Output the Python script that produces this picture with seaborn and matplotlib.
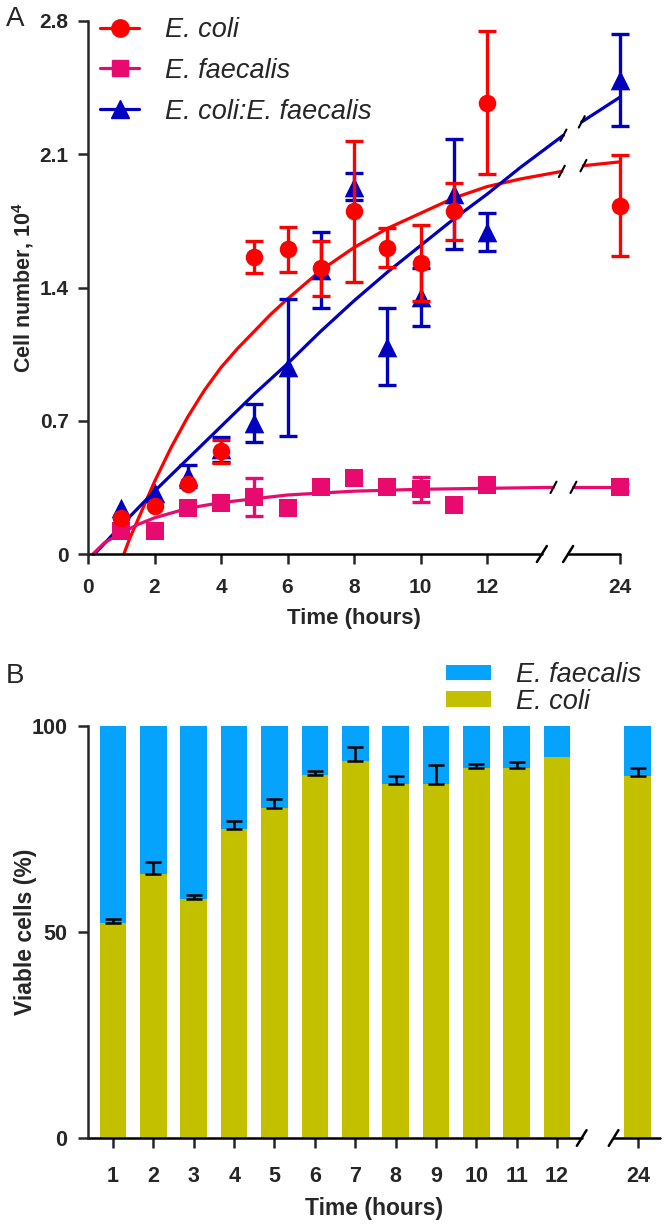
import numpy as np
import pandas as pd
import seaborn as sns
import matplotlib.pyplot as plt
from matplotlib.lines import Line2D
from matplotlib.patches import Patch

# ---------------- panel A: cell number (x10^4) ----------------
hours = [1, 2, 3, 4, 5, 6, 7, 8, 9, 10, 11, 12, 24]
ecoli = [0.19, 0.25, 0.37, 0.54, 1.56, 1.60, 1.50, 1.80, 1.61, 1.53, 1.80, 2.37, 1.83]
ecoli_err = [0, 0, 0, 0.06, 0.085, 0.12, 0.145, 0.37, 0.10, 0.20, 0.15, 0.375, 0.265]
faecalis = [0.12, 0.12, 0.24, 0.27, 0.30, 0.24, 0.35, 0.40, 0.35, 0.34, 0.26, 0.36, 0.35]
faecalis_err = [0, 0, 0, 0, 0.10, 0, 0, 0, 0, 0.065, 0, 0, 0.02]
mixed = [0.24, 0.32, 0.41, 0.55, 0.69, 0.98, 1.49, 1.93, 1.09, 1.35, 1.89, 1.69, 2.49]
mixed_err = [0, 0, 0.06, 0.065, 0.10, 0.36, 0.20, 0.07, 0.20, 0.15, 0.29, 0.10, 0.24]

# fitted curves (hours, value); gap = where the curve is broken
ecoli_fit_h = [1.08, 1.25, 1.5, 1.75, 2, 2.5, 3, 3.5, 4, 4.5, 5, 5.5, 6, 7, 8, 9, 10, 11, 12,
               15, 18.75, 20.7, 24]
ecoli_fit = [0, 0.08, 0.18, 0.28, 0.38, 0.56, 0.72, 0.86, 0.98, 1.08, 1.17, 1.26, 1.34, 1.49,
             1.61, 1.71, 1.79, 1.87, 1.93, 1.97, 2.01, 2.04, 2.06]
mixed_fit_h = [0.2, 1, 2, 3, 4, 5, 6, 7, 8, 9, 10, 11, 12, 15, 18.9, 20.55, 24]
mixed_fit = [0, 0.15, 0.33, 0.50, 0.67, 0.84, 1.00, 1.17, 1.33, 1.48, 1.62, 1.76, 1.89, 2.03, 2.20, 2.27, 2.40]
faecalis_fit_h = [0.15, 0.5, 1, 1.5, 2, 3, 4, 5, 6, 7, 8, 10, 12, 18, 19.8, 24]
faecalis_fit = [0, 0.06, 0.11, 0.155, 0.19, 0.24, 0.27, 0.29, 0.31, 0.32, 0.33, 0.34, 0.345, 0.35, 0.35, 0.35]

# ---------------- panel B: viable cells (%) ----------------
bar_hours = [1, 2, 3, 4, 5, 6, 7, 8, 9, 10, 11, 12, 24]
ecoli_pct = [52.2, 64.1, 58.0, 75.0, 80.1, 88.1, 91.5, 86.0, 86.0, 89.8, 89.8, 92.5, 87.9]
ecoli_pct_err = [1.0, 2.9, 1.0, 2.0, 2.2, 1.0, 3.4, 1.9, 4.5, 1.0, 1.5, 0, 1.9]

RED, PINK, BLUE = '#FF0000', '#E80A6E', '#0000BE'
COLI_Y, FAEC_B = '#C3C000', '#05A3FC'

sns.set_style('ticks')
plt.rcParams['font.family'] = ['Liberation Sans', 'DejaVu Sans']
plt.rcParams['mathtext.fontset'] = 'custom'
plt.rcParams['mathtext.bf'] = 'Liberation Sans:bold'
plt.rcParams['mathtext.rm'] = 'Liberation Sans'


def pos_a(h):
    # broken time axis: 12 -> 24 h compressed into 4 units
    h = np.asarray(h, dtype=float)
    return np.where(h <= 12, h, 12 + (h - 12) / 3.0)


def pos_b(h):
    return [h if h <= 12 else 14 for h in h]


fig = plt.figure(figsize=(6.66, 12.25), dpi=100)
W, H = 666, 1225
axA = fig.add_axes([88 / W, 1 - 554 / H, 532 / W, 533 / H])
axB = fig.add_axes([88 / W, 1 - 1138 / H, 572 / W, 412 / H])

# ---- panel A ----
curves = [(ecoli_fit_h, ecoli_fit, RED, (18.75, 20.7)),
          (mixed_fit_h, mixed_fit, BLUE, (18.9, 20.55)),
          (faecalis_fit_h, faecalis_fit, PINK, (18.0, 19.8))]
for fh, fv, c, (g0, g1) in curves:
    d = pd.DataFrame({'x': pos_a(fh), 'h': fh, 'y': fv})
    for part in (d[d.h <= g0], d[d.h >= g1]):
        sns.lineplot(data=part, x='x', y='y', color=c, lw=2.3, sort=False,
                     estimator=None, ax=axA, zorder=2, clip_on=False)
    for gh in (g0, g1):
        gx = float(pos_a(gh))
        gy = fv[fh.index(gh)]
        axA.plot([gx - 0.09, gx + 0.09], [gy - 0.03, gy + 0.03], color='black',
                 lw=1.5, zorder=6, clip_on=False)

series = [(faecalis, faecalis_err, PINK, 's', 170, 3),
          (mixed, mixed_err, BLUE, '^', 200, 4),
          (ecoli, ecoli_err, RED, 'o', 160, 5)]
xa = pos_a(hours)
for vals, err, c, m, s, z in series:
    e = np.array(err)
    keep = e > 0
    axA.errorbar(xa[keep], np.array(vals)[keep], yerr=e[keep], fmt='none', ecolor=c,
                 elinewidth=2.4, capsize=6.5, capthick=2.4, zorder=z, clip_on=False)
    df = pd.DataFrame({'x': xa, 'y': vals})
    sns.scatterplot(data=df, x='x', y='y', color=c, marker=m, s=s, linewidth=0,
                    ax=axA, zorder=z + 0.5, clip_on=False)

axA.set_xlim(0, 16)
axA.set_ylim(0, 2.8)
axA.set_xticks([0, 2, 4, 6, 8, 10, 12, 16])
axA.set_xticklabels(['0', '2', '4', '6', '8', '10', '12', '24'], fontweight='bold')
axA.set_yticks([0, 0.7, 1.4, 2.1, 2.8])
axA.set_yticklabels(['0', '0.7', '1.4', '2.1', '2.8'], fontweight='bold')
axA.tick_params(direction='out', length=7, width=1.8, labelsize=15, pad=7)
axA.tick_params(axis='x', pad=10)
axA.set_xlabel('Time (hours)', fontsize=16, fontweight='bold')
axA.set_ylabel(r'Cell number, 10$^{\mathbf{4}}$', fontsize=15.5, fontweight='bold')
axA.xaxis.set_label_coords(0.5, -0.102)
axA.yaxis.set_label_coords(-0.098, 0.5)
sns.despine(ax=axA)
axA.spines['bottom'].set_visible(False)
axA.spines['left'].set_linewidth(1.8)
tA = axA.get_xaxis_transform()
for x0, x1 in [(0, 13.65), (14.44, 16)]:
    axA.plot([x0, x1], [0, 0], color='black', lw=1.8, transform=tA, clip_on=False)
for bx in (13.65, 14.44):
    axA.plot([bx - 0.15, bx + 0.15], [-0.015, 0.015], color='black', lw=1.8,
             transform=tA, clip_on=False)

handlesA = [Line2D([0], [0], color=RED, lw=2.3, marker='o', markersize=12.5),
            Line2D([0], [0], color=PINK, lw=2.3, marker='s', markersize=12),
            Line2D([0], [0], color=BLUE, lw=2.3, marker='^', markersize=13)]
axA.legend(handlesA, ['E. coli', 'E. faecalis', 'E. coli:E. faecalis'],
           loc='upper left', bbox_to_anchor=(100 / W, 1 - 17 / H),
           bbox_transform=fig.transFigure, frameon=False, borderpad=0,
           borderaxespad=0, handlelength=1.45, handletextpad=0.95, labelspacing=0.55,
           prop={'style': 'italic', 'size': 19.5})

# ---- panel B ----
xb = pos_b(bar_hours)
dfB = pd.DataFrame({'x': xb, 'total': [100] * len(xb), 'coli': ecoli_pct})
sns.barplot(data=dfB, x='x', y='total', native_scale=True, color=FAEC_B, saturation=1,
            width=0.66, linewidth=0, errorbar=None, ax=axB)
sns.barplot(data=dfB, x='x', y='coli', native_scale=True, color=COLI_Y, saturation=1,
            width=0.66, linewidth=0, errorbar=None, ax=axB)
eb = np.array(ecoli_pct_err)
keep = eb > 0
axB.errorbar(np.array(xb)[keep], np.array(ecoli_pct)[keep],
             yerr=[np.zeros(keep.sum()), eb[keep]], fmt='none', ecolor='black',
             elinewidth=1.8, capsize=6, capthick=1.8, zorder=4)

axB.set_xlim(0.38, 14.55)
axB.set_ylim(0, 100)
axB.set_xticks(xb)
axB.set_xticklabels([str(h) for h in bar_hours], fontweight='bold')
axB.set_yticks([0, 50, 100])
axB.set_yticklabels(['0', '50', '100'], fontweight='bold')
axB.tick_params(direction='out', length=7, width=1.8, labelsize=15.5, pad=8)
axB.tick_params(axis='x', pad=13)
axB.set_xlabel('Time (hours)', fontsize=16.5, fontweight='bold')
axB.set_ylabel('Viable cells (%)', fontsize=16.5, fontweight='bold')
axB.xaxis.set_label_coords(0.5, -0.142)
axB.yaxis.set_label_coords(-0.09, 0.5)
sns.despine(ax=axB)
axB.spines['bottom'].set_visible(False)
axB.spines['left'].set_linewidth(1.8)
tB = axB.get_xaxis_transform()
for x0, x1 in [(0.38, 12.61), (13.40, 14.55)]:
    axB.plot([x0, x1], [0, 0], color='black', lw=1.8, transform=tB, clip_on=False)
for bx in (12.61, 13.40):
    axB.plot([bx - 0.12, bx + 0.12], [-0.019, 0.019], color='black', lw=1.8,
             transform=tB, clip_on=False)

handlesB = [Patch(facecolor=FAEC_B, edgecolor='none'), Patch(facecolor=COLI_Y, edgecolor='none')]
axB.legend(handlesB, ['E. faecalis', 'E. coli'], loc='upper left',
           bbox_to_anchor=(446 / W, 1 - 662 / H), bbox_transform=fig.transFigure,
           frameon=False, borderpad=0, borderaxespad=0, handlelength=1.65,
           handleheight=0.5, handletextpad=0.95, labelspacing=0.02,
           prop={'style': 'italic', 'size': 19.5})

fig.text(6 / W, 1 - 19 / H, 'A', fontsize=20, va='center', ha='left')
fig.text(6 / W, 1 - 676 / H, 'B', fontsize=20, va='center', ha='left')

fig.savefig('out.png', dpi=100)
